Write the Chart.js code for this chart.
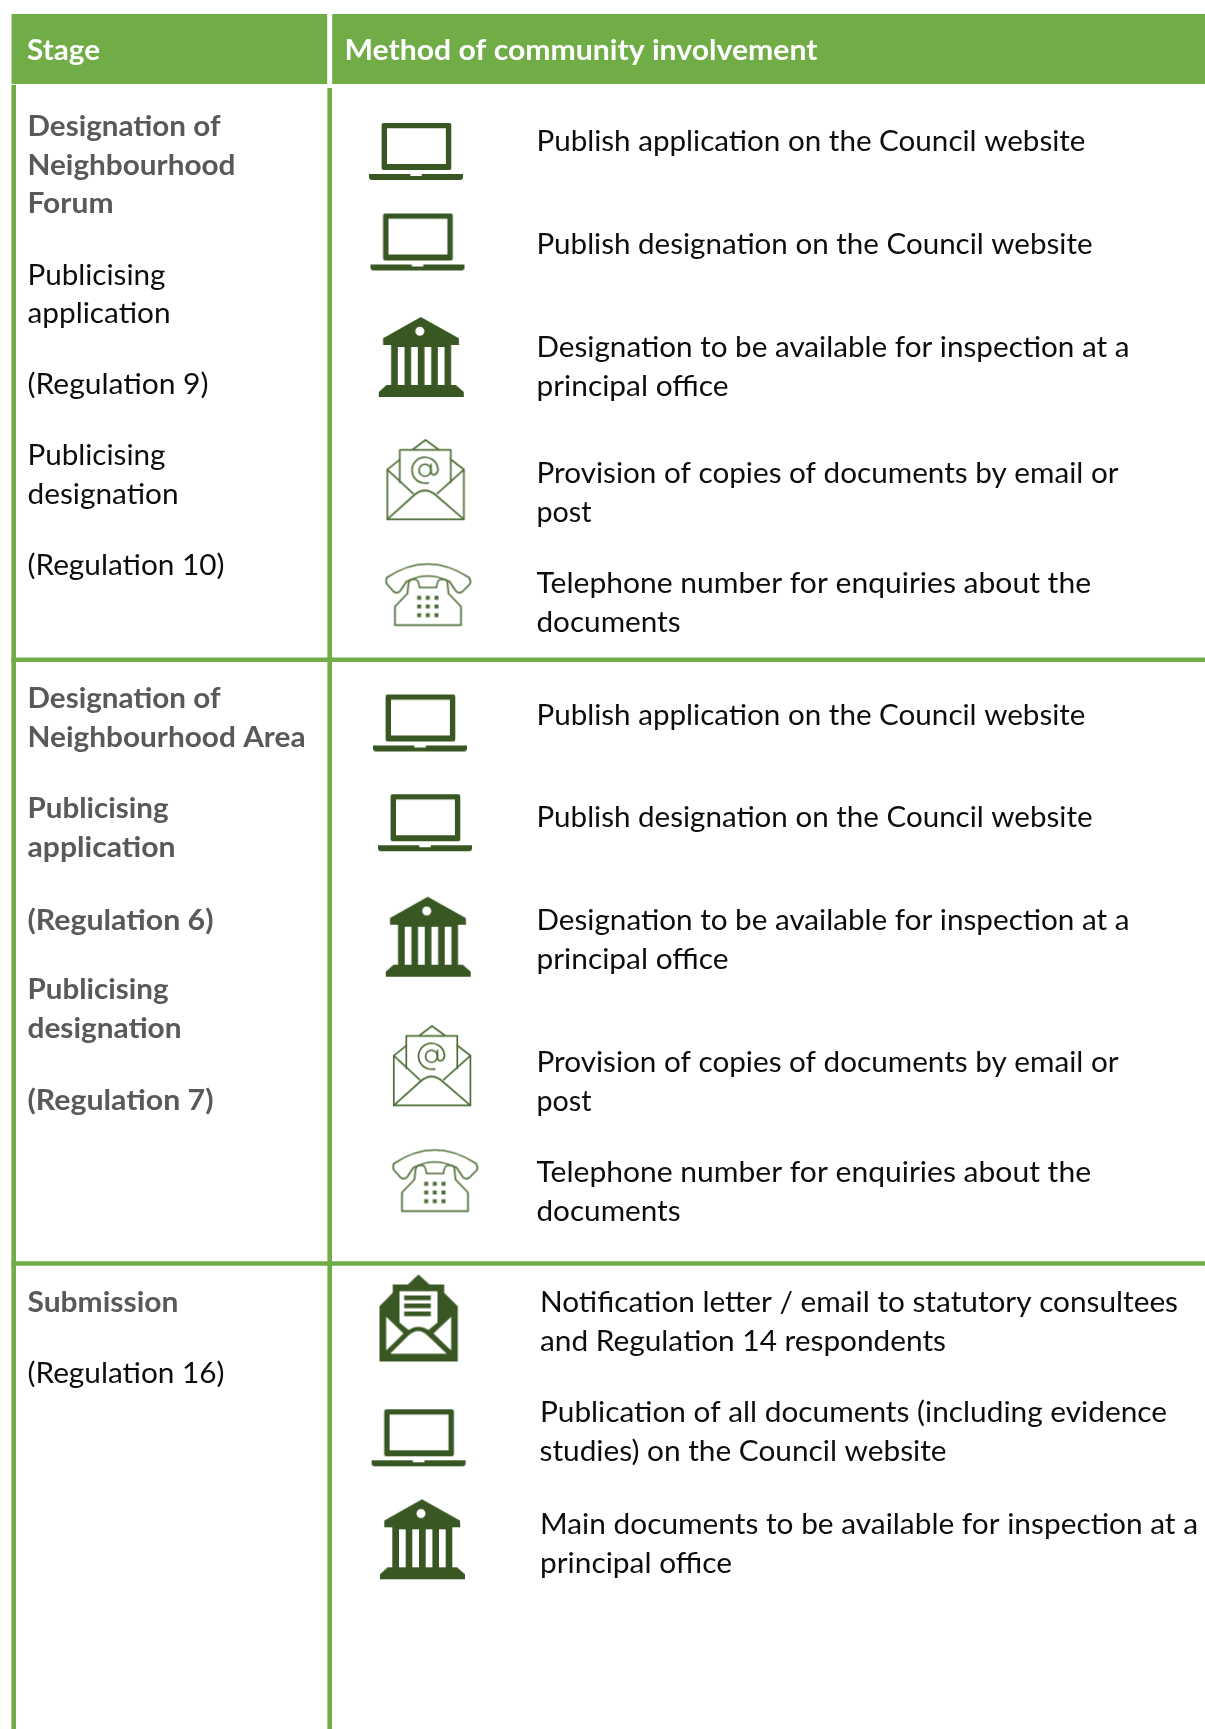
<!DOCTYPE html>
<html><head><meta charset="utf-8">
<style>html,body{margin:0;padding:0;background:#fff}canvas{display:block}</style>
<script src="https://cdn.jsdelivr.net/npm/chart.js@4"></script>
</head><body><canvas id="c" width="1205" height="1729"></canvas>
<script>
const headerLabels=["Stage","Method of community involvement"];
const headerXs=[27,344.5];
const headerY=[51,51];
const headerWidths=[73,473];
const stageLines=["Designation of","Neighbourhood","Forum","Publicising","application","(Regulation 9)","Publicising","designation","(Regulation 10)","Designation of","Neighbourhood Area","Publicising","application","(Regulation 6)","Publicising","designation","(Regulation 7)","Submission","(Regulation 16)"];
const stageBold=[1,1,1,0,0,0,0,0,0,1,1,1,1,1,1,1,1,1,0];
const stageRows=[126.6,165.6,204.1,275.6,314.1,384.6,456.1,495.1,565.6,699.1,737.6,809.1,847.6,920.2,990.1,1028.6,1100.2,1303.1,1373.6];
const stageWidths=[193,208,86,138,143,181,138,151,197,193,278,141,148,186,141,154,186,151,197];
const methodLines=["Publish application on the Council website","Publish designation on the Council website","Designation to be available for inspection at a","principal office","Provision of copies of documents by email or","post","Telephone number for enquiries about the","documents","Publish application on the Council website","Publish designation on the Council website","Designation to be available for inspection at a","principal office","Provision of copies of documents by email or","post","Telephone number for enquiries about the","documents","Notification letter / email to statutory consultees","and Regulation 14 respondents","Publication of all documents (including evidence","studies) on the Council website","Main documents to be available for inspection at a","principal office"];
const methodRows=[142.1,244.6,348.1,387.1,474.1,513.1,584.1,623.1,715.6,818.1,921.1,960.1,1063.1,1102.1,1173.1,1212.1,1303.1,1342.1,1413.1,1452.1,1524.2,1563.2];
const methodColumn=[536.5,536.5,536.5,536.5,536.5,536.5,536.5,536.5,536.5,536.5,536.5,536.5,536.5,536.5,536.5,536.5,540,540,540,539.5,540,540];
const methodWidths=[549,556,593,192,582,55,554.5,144,549,556,593,192,582,55,554.5,144,638,406,627,407,658,192];
const iconKinds=["laptop","laptop","bank","email","phone","laptop","laptop","bank","email","phone","mail","laptop","bank"];
const iconXs=[416,417.5,421.3,425.5,428,420,425,428.2,432,435,418.5,418.6,422.5];
const iconYs=[151.5,242,357,479.7,595.5,723,822.7,936.7,1065.8,1181.5,1318,1437.8,1539.3];
const ruleXs=[[13.7,13.7],[329.7,329.7],[11.5,1205],[11.5,1205]];
const ruleYs=[[85,1729],[88,1729],[659.7,659.7],[1263.5,1263.5]];
const headerBarXs=[[11.5,327.2],[332.2,1205]];
const headerBarYs=[[49,49],[49,49]];

const GREEN="#70ad47",DARK="#385723",THIN="#4d6f37",GREY="#595959",INK="#0d0d0d";

function mk(w,h,fn){const c=document.createElement("canvas");c.width=w+4;c.height=h+4;const g=c.getContext("2d");g.translate(2,2);g.fillStyle=DARK;g.strokeStyle=THIN;g.lineWidth=1.7;g.lineJoin="round";g.lineCap="round";fn(g);return c;}
function poly(g,p){g.beginPath();p.forEach((q,i)=>i?g.lineTo(q[0],q[1]):g.moveTo(q[0],q[1]));}
const icons={
laptop:mk(94,57,g=>{
 g.beginPath();g.roundRect(12.6,0,69.7,47,2);g.rect(18,5.3,58.9,35.7);g.fill("evenodd");
 g.beginPath();g.roundRect(0,51,94,6,[0,0,3,3]);g.fill();
 g.fillStyle="#fff";g.fillRect(41.3,51,11.5,2);
}),
bank:mk(85,80,g=>{
 poly(g,[[42,0],[80,21.3],[80.3,28],[4.3,28],[4.3,21.3]]);g.closePath();g.fill();
 g.fillRect(12.3,28,60,42);
 poly(g,[[7.7,68],[77,68],[85,75],[85,80],[0,80],[0,75]]);g.closePath();g.fill();
 g.fillStyle="#fff";
 [19,32.3,45.7,59].forEach(x=>g.fillRect(x,30,6.7,38));
 g.beginPath();g.arc(41,14.3,4.5,0,7);g.fill();
}),
email:mk(78,81,g=>{
 poly(g,[[26.7,10],[39,0.7],[51.7,10]]);g.stroke();
 poly(g,[[13.3,43],[13.3,10.7],[64.3,10.7],[64.3,43]]);g.stroke();
 poly(g,[[13.3,20.3],[0.8,30.3],[0.8,80.2],[77.4,80.2],[77.4,30.3],[64.3,20.3]]);g.stroke();
 poly(g,[[0.8,30.3],[26.7,54.3]]);g.stroke();
 poly(g,[[77.4,30.3],[50.7,54.3]]);g.stroke();
 g.beginPath();g.moveTo(0.8,80.2);g.lineTo(27,56.5);g.quadraticCurveTo(38.5,46,50,56.5);g.lineTo(77.4,80.2);g.stroke();
 g.beginPath();g.arc(38.5,31,6,0,6.3);g.stroke();
 g.beginPath();g.moveTo(44.5,25);g.lineTo(44.5,33);g.quadraticCurveTo(46,37,49,35);g.quadraticCurveTo(52,33,51.5,29);g.arc(38.5,31,13,-0.15,Math.PI*0.42,true);g.stroke();
}),
phone:mk(85,64,g=>{
 g.beginPath();g.moveTo(1.5,14);g.quadraticCurveTo(42,-13,83.5,14);g.quadraticCurveTo(86,18,84,21);g.lineTo(77,28);g.quadraticCurveTo(73,31,70,27);g.lineTo(64,18);g.quadraticCurveTo(42,7,21,18);g.lineTo(15,27);g.quadraticCurveTo(12,31,8,28);g.lineTo(1,20);g.quadraticCurveTo(0,17,1.5,14);g.closePath();g.stroke();
 g.beginPath();g.moveTo(9.5,61.7);g.lineTo(9.5,43);g.lineTo(22,30);g.lineTo(23,20);g.quadraticCurveTo(24,16,27,16);g.lineTo(30,16);g.quadraticCurveTo(33,16,34,24);g.lineTo(51,24);g.quadraticCurveTo(52,16,55,16);g.lineTo(58,16);g.quadraticCurveTo(62,16,62,20);g.lineTo(63,30);g.lineTo(75.5,43);g.lineTo(75.5,61.7);g.closePath();g.stroke();
 g.fillStyle=THIN;[33.7,42.3,51].forEach(x=>[34.3,43,51.7].forEach(y=>g.fillRect(x-2,y-2,4,4)));
}),
mail:mk(78,87,g=>{
 poly(g,[[39,0],[28.3,10],[13.3,10],[13.3,18.3],[0,31.7],[0,87],[78.3,87],[78.3,31.7],[64.7,18.3],[64.7,10],[50,10]]);g.closePath();g.fill();
 g.fillStyle="#fff";
 g.beginPath();g.moveTo(20,16.7);g.lineTo(58,16.7);g.lineTo(58,48);g.lineTo(49,55.5);g.quadraticCurveTo(39,49,29,55.5);g.lineTo(20,48);g.closePath();g.fill();
 poly(g,[[6.7,42.3],[24,59],[6.7,76]]);g.closePath();g.fill();
 poly(g,[[71.7,42.3],[54,59],[71.7,76]]);g.closePath();g.fill();
 g.beginPath();g.moveTo(10.7,79.3);g.lineTo(29,61);g.quadraticCurveTo(39,52,48,61);g.lineTo(67.3,79.3);g.closePath();g.fill();
 g.fillStyle=DARK;[21,29,37].forEach(y=>g.fillRect(24.7,y,26.6,4.7));
})};

function lineSet(xs,ys,w){return {showLine:true,data:xs.map((x,i)=>({x,y:ys[i]})),borderColor:GREEN,borderWidth:w,borderCapStyle:"butt",pointRadius:0,clip:false};}
const pts=(xs,ys)=>xs.map((x,i)=>({x,y:ys[i]}));
const FONT="Lato";
const labelPlugin={id:"labels",afterDatasetsDraw(chart){
 const ctx=chart.ctx;ctx.save();ctx.textBaseline="middle";ctx.textAlign="left";
 chart.data.datasets.forEach((d,i)=>{if(!d.labels)return;chart.getDatasetMeta(i).data.forEach((el,j)=>{
   const b=d.bold?d.bold[j]:0;
   ctx.save();ctx.font=`${b?700:400} 29px ${FONT}`;
   const k=d.widths[j]/ctx.measureText(d.labels[j]).width;
   ctx.translate(el.x,el.y);ctx.scale(k,1);
   ctx.fillStyle=d.color||(b?GREY:INK);ctx.fillText(d.labels[j],0,0);ctx.restore();});});
 ctx.restore();
}};
new Chart(document.getElementById("c"),{type:"scatter",plugins:[labelPlugin],
 data:{datasets:[
  {data:pts(headerXs,headerY),labels:headerLabels,widths:headerWidths,bold:[1,1],color:"#fff",pointRadius:0},
  {data:pts(stageLines.map(()=>27.5),stageRows),labels:stageLines,widths:stageWidths,bold:stageBold,pointRadius:0},
  {data:pts(methodColumn,methodRows),labels:methodLines,widths:methodWidths,pointRadius:0},
  {data:pts(iconXs,iconYs),pointStyle:iconKinds.map(k=>icons[k]),pointRadius:10,clip:false},
  ...ruleXs.map((x,i)=>lineSet(x,ruleYs[i],4.6)),
  ...headerBarXs.map((x,i)=>lineSet(x,headerBarYs[i],70))
 ]},
 options:{responsive:false,animation:false,events:[],layout:{padding:0,autoPadding:false},
  plugins:{legend:{display:false},tooltip:{enabled:false}},
  scales:{x:{type:"linear",min:0,max:1205,display:false},y:{type:"linear",min:0,max:1729,reverse:true,display:false}}}
});
</script></body></html>
